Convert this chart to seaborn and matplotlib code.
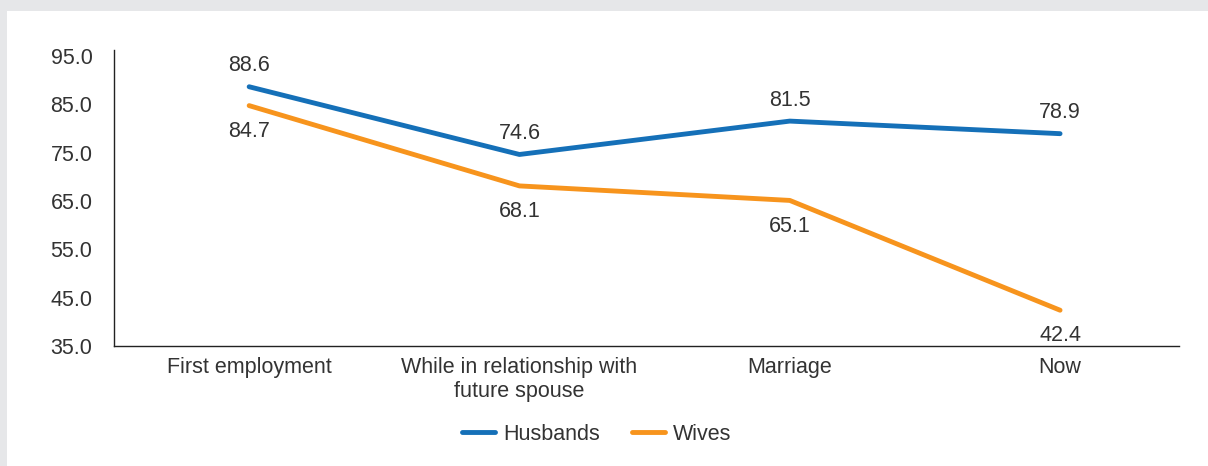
import pandas as pd
import numpy as np
import matplotlib.pyplot as plt
import seaborn as sns
from matplotlib.patches import Rectangle

categories = ['First employment', 'While in relationship with\nfuture spouse', 'Marriage', 'Now']
husbands = [88.6, 74.6, 81.5, 78.9]
wives = [84.7, 68.1, 65.1, 42.4]
y_ticks = [35.0, 45.0, 55.0, 65.0, 75.0, 85.0, 95.0]

colors = {'Husbands': '#1570b8', 'Wives': '#f7941d'}
text_color = '#333333'
fs = 15.5

df = pd.DataFrame({
    'pos': list(range(len(categories))) * 2,
    'value': husbands + wives,
    'Legend': ['Husbands'] * len(categories) + ['Wives'] * len(categories),
})

sns.set_style('white')
plt.rcParams['font.family'] = ['Liberation Sans', 'DejaVu Sans']

fig = plt.figure(figsize=(12.08, 4.66), dpi=100)
fig.patch.set_facecolor('#e6e7e9')
# white panel
panel = Rectangle((7 / 1208, 0), 1, (466 - 11) / 466, transform=fig.transFigure,
                  facecolor='white', edgecolor='none', zorder=-10)
fig.add_artist(panel)

ax = fig.add_axes([114 / 1208, (466 - 346) / 466, (1179 - 114) / 1208, (346 - 50) / 466])
ax.set_facecolor('none')

sns.lineplot(data=df, x='pos', y='value', hue='Legend', palette=colors,
             hue_order=['Husbands', 'Wives'], linewidth=3.5, ax=ax, legend=True)
for line in ax.lines:
    line.set_solid_capstyle('round')
    line.set_solid_joinstyle('round')

ax.set_xlim(-0.5, 3.44)
ax.set_ylim(35, 96.2)
ax.set_yticks(y_ticks)
ax.set_yticklabels([f'{v:.1f}' for v in y_ticks], fontsize=fs, color=text_color)
ax.set_xticks(range(len(categories)))
ax.set_xticklabels(categories, fontsize=fs, color=text_color, linespacing=1.2)
ax.tick_params(axis='y', length=0, pad=15.5)
ax.tick_params(axis='x', length=0, pad=8)
ax.set_xlabel('')
ax.set_ylabel('')

for s in ['top', 'right']:
    ax.spines[s].set_visible(False)
for s in ['left', 'bottom']:
    ax.spines[s].set_color('#222222')
    ax.spines[s].set_linewidth(1.0)

for i, v in enumerate(husbands):
    ax.annotate(f'{v:.1f}', (i, v), xytext=(0, 11), textcoords='offset points',
                ha='center', va='baseline', fontsize=fs, color=text_color)
for i, v in enumerate(wives):
    ax.annotate(f'{v:.1f}', (i, v), xytext=(0, -11), textcoords='offset points',
                ha='center', va='top', fontsize=fs, color=text_color)

leg = ax.legend(loc='center', bbox_to_anchor=(597 / 1208, (466 - 434) / 466), bbox_transform=fig.transFigure,
                ncol=2, frameon=False, fontsize=fs, handlelength=1.5, columnspacing=1.5,
                handletextpad=0.4)
for t in leg.get_texts():
    t.set_color(text_color)
for h in leg.get_lines():
    h.set_linewidth(3.5)
    h.set_solid_capstyle('round')

fig.savefig('out.png', dpi=100, facecolor=fig.get_facecolor())
